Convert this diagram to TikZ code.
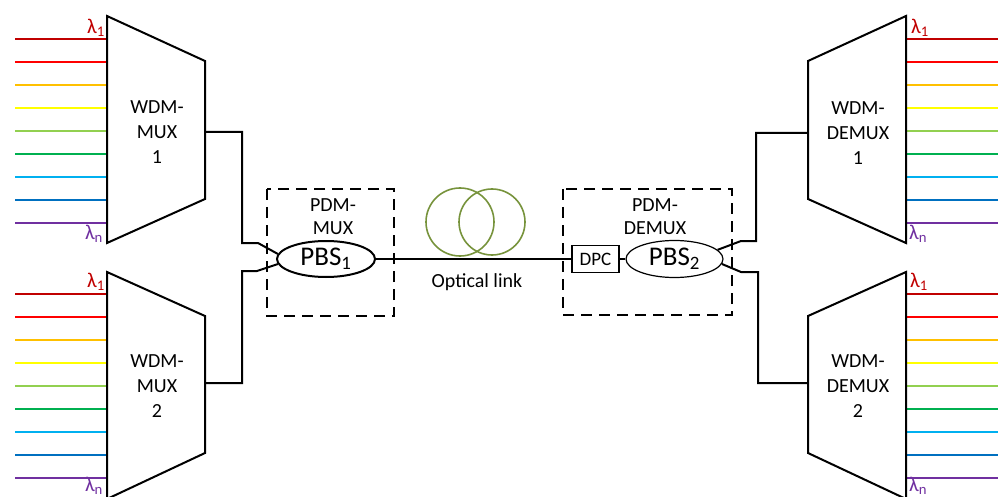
\documentclass[tikz,border=0pt]{standalone}
\usepackage{fontspec}
\setmainfont{Carlito}
\usepackage{tikz}
\usetikzlibrary{shapes.geometric}
\usepackage{xcolor}

\definecolor{chA}{HTML}{C00000}
\definecolor{chB}{HTML}{FF0000}
\definecolor{chC}{HTML}{FFC000}
\definecolor{chD}{HTML}{FFFF00}
\definecolor{chE}{HTML}{92D050}
\definecolor{chF}{HTML}{00B050}
\definecolor{chG}{HTML}{00B0F0}
\definecolor{chH}{HTML}{0070C0}
\definecolor{chI}{HTML}{7030A0}
\definecolor{fibregreen}{HTML}{77933C}

\begin{document}
\begin{tikzpicture}[x=1pt, y=-1pt,
    wdm/.style={draw, line width=2pt, line join=miter},
    wdmlabel/.style={align=center, font=\fontsize{20}{25}\selectfont},
    pbs/.style={ellipse, draw, minimum width=98pt, minimum height=36pt, inner sep=0pt, font=\fontsize{27}{30}\selectfont},
    pdmbox/.style={draw, line width=1.8pt, dash pattern=on 11pt off 7pt},
    pdmlabel/.style={align=center, font=\fontsize{20}{23}\selectfont},
    fibre/.style={draw=fibregreen, line width=1.6pt},
    link/.style={line width=2pt, line join=miter},
    channel/.style={line width=2pt},
    lam/.style={font=\fontsize{21}{22}\selectfont, inner sep=0pt}
]
\useasboundingbox (0,0) rectangle (998,497);

\foreach \c [count=\i from 0] in {chA,chB,chC,chD,chE,chF,chG,chH,chI} {
    \draw[channel, \c] (15,{39+23*\i}) -- (107,{39+23*\i});
    \draw[channel, \c] (15,{294+23*\i}) -- (107,{294+23*\i});
    \draw[channel, \c] (906,{39+23*\i}) -- (998,{39+23*\i});
    \draw[channel, \c] (906,{294+23*\i}) -- (998,{294+23*\i});
}

\draw[wdm] (107,16) -- (205,61) -- (205,199) -- (107,243) -- cycle;
\draw[wdm] (107,272) -- (205,316) -- (205,453) -- (107,499) -- cycle;
\draw[wdm] (906,16) -- (808,61) -- (808,199) -- (906,243) -- cycle;
\draw[wdm] (906,272) -- (808,316) -- (808,453) -- (906,499) -- cycle;

\node[wdmlabel] (mux1) at (157,132) {WDM-\\MUX\\1};
\node[wdmlabel] (mux2) at (157,386) {WDM-\\MUX\\2};
\node[wdmlabel] (demux1) at (858,133) {WDM-\\DEMUX\\1};
\node[wdmlabel] (demux2) at (858,386) {WDM-\\DEMUX\\2};

\coordinate (mux1out) at (205,132);
\coordinate (mux2out) at (205,383);
\coordinate (demux1in) at (808,133);
\coordinate (demux2in) at (808,383);

\node[lam, chA] (l1a) at (96,28) {λ\textsubscript{1}};
\node[lam, chI] (lna) at (94,234) {λ\textsubscript{n}};
\node[lam, chA] (l1b) at (96,282) {λ\textsubscript{1}};
\node[lam, chI] (lnb) at (94,486) {λ\textsubscript{n}};
\node[lam, chA] (l1c) at (920,28) {λ\textsubscript{1}};
\node[lam, chI] (lnc) at (918,234) {λ\textsubscript{n}};
\node[lam, chA] (l1d) at (919,282) {λ\textsubscript{1}};
\node[lam, chI] (lnd) at (918,486) {λ\textsubscript{n}};

\draw[pdmbox] (267,189) rectangle (394,316);
\draw[pdmbox] (563,189) rectangle (732,315);
\node[pdmlabel] (pdmmux) at (333,217) {PDM-\\MUX};
\node[pdmlabel] (pdmdemux) at (655,217) {PDM-\\DEMUX};

\node[pbs, line width=2pt] (pbs1) at (326,259) {PBS\textsubscript{1}};
\node[pbs, line width=1.2pt, minimum width=97pt, minimum height=37pt] (pbs2) at (674.5,259) {PBS\textsubscript{2}};
\node[draw, line width=1.5pt, minimum width=47pt, minimum height=27pt, inner sep=0pt, font=\fontsize{19}{20}\selectfont] (dpc) at (595.5,259) {DPC};

\draw[fibre] (460,222) circle[radius=34pt];
\draw[fibre] (492,222) circle[radius=33pt];
\node[pdmlabel] (linklabel) at (477,282) {Optical link};

\draw[link] (pbs1.east) -- (dpc.west);
\draw[link, line width=1.5pt] (dpc.east) -- (pbs2.west);

\draw[link] (mux1out) -- ++(37,0) |- (258,243) -- (pbs1.174);
\draw[link] (mux2out) -- ++(37,0) |- (257,271) -- (pbs1.186);
\draw[link] (demux1in) -- ++(-52,0) |- (741,241) -- (pbs2.12);
\draw[link] (demux2in) -- ++(-50,0) |- (741,272) -- (pbs2.-6);
\end{tikzpicture}
\end{document}
